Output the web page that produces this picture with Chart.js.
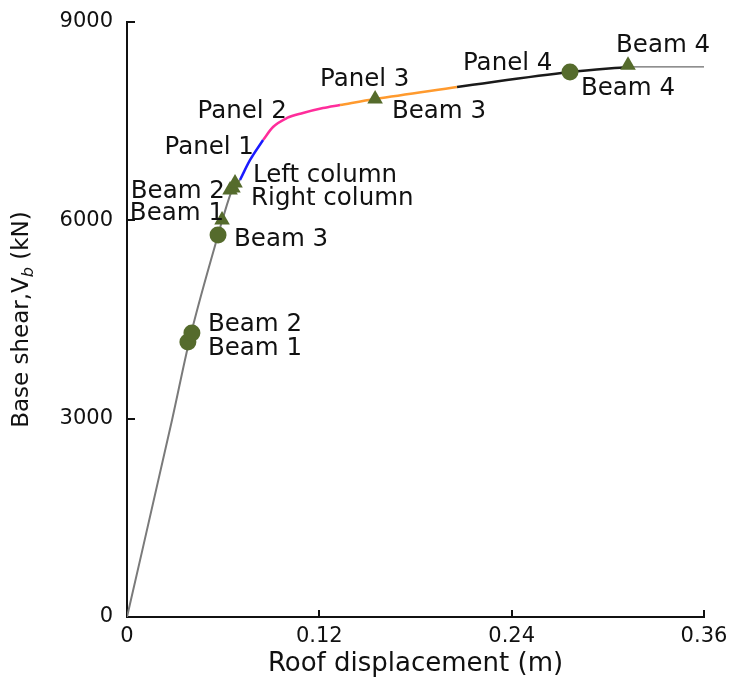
<!DOCTYPE html>
<html>
<head>
<meta charset="utf-8">
<script src="https://cdn.jsdelivr.net/npm/chart.js@4"></script>
<style>
html,body{margin:0;padding:0;background:#fff;}
#wrap{width:731px;height:684px;position:relative;}
</style>
</head>
<body>
<div id="wrap"><canvas id="c" width="731" height="684"></canvas></div>
<script>
// ---- tick labels ----
const xTicks = [0, 0.12, 0.24, 0.36];
const yTicks = [0, 3000, 6000, 9000];

// ---- pushover curve pieces (roof displacement m, base shear kN) ----
const elasticX = [0, 0.0281, 0.0393, 0.0568, 0.0593, 0.0661, 0.0705];
const elasticY = [0, 2980, 4220, 5778, 5990, 6489, 6610];
const panel1X = [0.0705, 0.0768, 0.0849];
const panel1Y = [6610, 6913, 7215];
const panel2X = [0.0849, 0.0911, 0.0998, 0.1098, 0.1223, 0.1329];
const panel2Y = [7215, 7412, 7548, 7624, 7699, 7745];
const panel3X = [0.1329, 0.1548, 0.2059];
const panel3Y = [7745, 7835, 8017];
const panel4X = [0.2059, 0.2764, 0.3126];
const panel4Y = [8017, 8244, 8320];
const tailX = [0.3126, 0.36];
const tailY = [8320, 8320];

// ---- hinge markers ----
const circleNames = ['Beam 1', 'Beam 2', 'Beam 3', 'Beam 4'];
const circleX = [0.0380, 0.0405, 0.0568, 0.2764];
const circleY = [4160, 4296, 5778, 8244];
const triangleNames = ['Beam 1', 'Beam 2', 'Right column', 'Left column', 'Beam 3', 'Beam 4'];
const triangleX = [0.0593, 0.0643, 0.0661, 0.0674, 0.1548, 0.3126];
const triangleY = [6005, 6459, 6489, 6565, 7835, 8345];

// ---- annotation texts and their anchor (data units) ----
const labelText = ['Panel 1', 'Panel 2', 'Panel 3', 'Panel 4', 'Left column', 'Right column',
  'Beam 2', 'Beam 1', 'Beam 3', 'Beam 2', 'Beam 1', 'Beam 3', 'Beam 4', 'Beam 4'];
const labelX = [0.0792, 0.0998, 0.1204, 0.2096, 0.0786, 0.0774,
  0.0611, 0.0605, 0.0668, 0.0505, 0.0505, 0.1653, 0.2832, 0.3051];
const labelY = [7094, 7639, 8123, 8365, 6671, 6323,
  6429, 6096, 5703, 4417, 4054, 7639, 7987, 8637];
const labelAlign = ['right', 'right', 'left', 'left', 'left', 'left',
  'right', 'right', 'left', 'left', 'left', 'left', 'left', 'left'];

const xTitle = 'Roof displacement (m)';
const yTitleParts = ['Base shear,V', 'b', ' (kN)'];

const zip = (xs, ys) => xs.map((x, i) => ({x: x, y: ys[i]}));
const FONT = "'DejaVu Sans', sans-serif";
const OLIVE = '#556b2c';

function lineDs(xs, ys, color, width) {
  return {data: zip(xs, ys), showLine: true, borderColor: color, borderWidth: width,
    pointRadius: 0, cubicInterpolationMode: 'monotone', order: 2, fill: false};
}
function noPad(s) { s.paddingTop = 0; s.paddingBottom = 0; s.paddingLeft = 0; s.paddingRight = 0; }

const overlay = {
  id: 'overlay',
  afterDraw(chart) {
    const ctx = chart.ctx, xs = chart.scales.x, ys = chart.scales.y, a = chart.chartArea;
    ctx.save();
    // inward tick marks
    ctx.strokeStyle = '#111'; ctx.lineWidth = 2;
    xTicks.forEach(v => { if (v === 0) return; const px = Math.round(xs.getPixelForValue(v));
      ctx.beginPath(); ctx.moveTo(px, a.bottom); ctx.lineTo(px, a.bottom - 7); ctx.stroke(); });
    yTicks.forEach(v => { if (v === 0) return; const py = Math.round(ys.getPixelForValue(v));
      ctx.beginPath(); ctx.moveTo(a.left, py); ctx.lineTo(a.left + 8, py); ctx.stroke(); });
    // annotation labels
    ctx.fillStyle = '#111';
    ctx.font = '24.5px ' + FONT;
    ctx.textBaseline = 'middle';
    labelText.forEach((t, i) => {
      ctx.textAlign = labelAlign[i];
      ctx.fillText(t, xs.getPixelForValue(labelX[i]), ys.getPixelForValue(labelY[i]));
    });
    // x title
    ctx.font = '26px ' + FONT; ctx.textAlign = 'center';
    ctx.fillText(xTitle, (a.left + a.right) / 2, 664);
    // y title with subscript
    ctx.translate(22, (a.top + a.bottom) / 2);
    ctx.rotate(-Math.PI / 2);
    const big = '23px ' + FONT, small = 'italic 16px ' + FONT;
    ctx.font = big; const w0 = ctx.measureText(yTitleParts[0]).width;
    const w2 = ctx.measureText(yTitleParts[2]).width;
    ctx.font = small; const w1 = ctx.measureText(yTitleParts[1]).width;
    let x0 = -(w0 + w1 + w2) / 2;
    ctx.textAlign = 'left';
    ctx.font = big; ctx.fillText(yTitleParts[0], x0, 0);
    ctx.font = small; ctx.fillText(yTitleParts[1], x0 + w0, 7);
    ctx.font = big; ctx.fillText(yTitleParts[2], x0 + w0 + w1, 0);
    ctx.restore();
  }
};

Chart.defaults.font.family = FONT;
Chart.defaults.color = '#111';

new Chart(document.getElementById('c'), {
  type: 'scatter',
  data: {
    datasets: [
      {data: zip(circleX, circleY), pointStyle: 'circle', pointRadius: 8.5, pointBackgroundColor: OLIVE,
        pointBorderWidth: 0, order: 0},
      {data: zip(triangleX, triangleY), pointStyle: 'triangle', pointRadius: 9, pointBackgroundColor: OLIVE,
        pointBorderWidth: 0, order: 0},
      lineDs(elasticX, elasticY, '#7a7a7a', 2),
      lineDs(panel1X, panel1Y, '#1a1aff', 2.5),
      lineDs(panel2X, panel2Y, '#ff2d9b', 2.5),
      lineDs(panel3X, panel3Y, '#ff9a2e', 2.5),
      lineDs(panel4X, panel4Y, '#1a1a1a', 2.5),
      lineDs(tailX, tailY, '#6a6a6a', 1.2)
    ]
  },
  options: {
    responsive: false,
    animation: false,
    events: [],
    layout: {padding: {left: 0, top: 22, right: 27, bottom: 0}},
    plugins: {legend: {display: false}, tooltip: {enabled: false}},
    scales: {
      x: {
        type: 'linear', min: 0, max: 0.36,
        afterBuildTicks: s => { s.ticks = xTicks.map(v => ({value: v})); },
        afterFit: s => { s.height = 67; noPad(s); },
        grid: {display: false, drawTicks: false},
        border: {display: true, color: '#111', width: 2},
        ticks: {font: {size: 21}, padding: 7, maxRotation: 0, callback: v => String(v)}
      },
      y: {
        type: 'linear', min: 0, max: 9000,
        afterBuildTicks: s => { s.ticks = yTicks.map(v => ({value: v})); },
        afterFit: s => { s.width = 127; noPad(s); },
        grid: {display: false, drawTicks: false},
        border: {display: true, color: '#111', width: 2},
        ticks: {font: {size: 21}, padding: 14, callback: v => String(v)}
      }
    }
  },
  plugins: [overlay]
});
</script>
</body>
</html>
